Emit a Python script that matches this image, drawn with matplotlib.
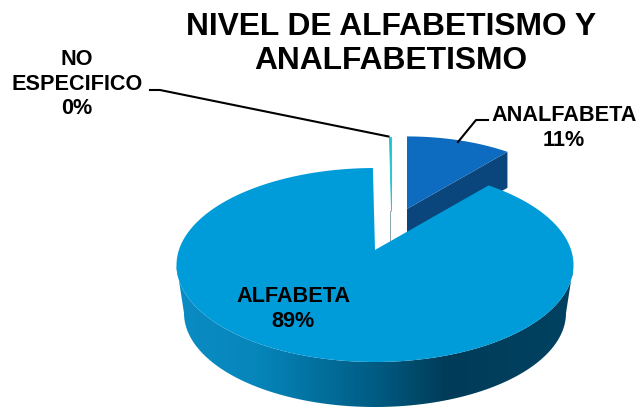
import numpy as np
import matplotlib
matplotlib.use('Agg')
import matplotlib.pyplot as plt
from matplotlib.colors import LinearSegmentedColormap
from matplotlib.patches import Polygon

plt.rcParams['font.family'] = ['Liberation Sans', 'DejaVu Sans']

categories = ['ANALFABETA', 'ALFABETA', 'NO\nESPECIFICO']
values = [11.2, 88.6, 0.2]
title = 'NIVEL DE ALFABETISMO Y\nANALFABETISMO'

# pie geometry in pixels of the reference
cx, cy, rx, ry = 375.0, 265.0, 198.5, 97.0
k = 0.155  # perspective shift of the pie centre
low_cx, low_cy, low_rx, low_ry = 375.0, 313.0, 191.0, 94.0

def project(alpha, scale=1.0, off=(0, 0)):
	# circle angle (degrees) -> pixel on the tilted disc, with perspective
	a = np.radians(alpha)
	x, y = np.cos(a), np.sin(a)
	yp = (y + k) / (1 + k * y)
	xp = x * np.sqrt(1 - k ** 2) / (1 + k * y)
	ax_x = cx + off[0] + scale * (xp * rx)
	ax_y = (cy - k * ry) + off[1] - scale * ((yp - k) * ry)
	return ax_x, ax_y

def slice_xy(a1, a2, scale=1.0, off=(0, 0)):
	t = np.linspace(a1, a2, 200)
	x, y = project(t, scale, off)
	ax0 = cx + off[0]
	ay0 = cy - k * ry + off[1]
	return np.column_stack([np.r_[ax0, x], np.r_[ay0, y]])

fig = plt.figure(figsize=(6.37, 4.07), dpi=100)
ax = fig.add_axes([0, 0, 1, 1])

sweeps = 360 * np.array(values) / sum(values)
a_blue = (90 - sweeps[0], 90)
a_main = (90 - sweeps[0] - sweeps[1], 90 - sweeps[0])
a_sliver = (90 + 0, 90 + sweeps[2])

# ANALFABETA, exploded
s_blue, off_blue = 0.885, (32, -41)
xy = slice_xy(a_blue[0], a_blue[1], s_blue, off_blue)
px, py = project(a_blue[0], s_blue, off_blue)
x0, y0 = xy[0]
ax.add_patch(Polygon([[x0, y0], [px, py], [px, py + 36], [x0, y0 + 36]], fc='#0a457c', ec='none', zorder=2))
ax.add_patch(Polygon(xy, fc='#0d6cc0', ec='none', zorder=3))

# NO ESPECIFICO, almost nothing of it
s_sl, off_sl = 0.9, (15.5, -39)
xy = slice_xy(a_sliver[0], a_sliver[1], s_sl, off_sl)
x0, y0 = xy[0]
ax.add_patch(Polygon([[x0 - 1.0, y0], [x0 + 0.6, y0], [x0 + 0.6, y0 + 30], [x0 - 1.0, y0 + 30]], fc='#8aa9ad', ec='none', zorder=2))
ax.add_patch(Polygon(xy, fc='#1cc3d0', ec='#1cc3d0', lw=0.6, zorder=3))

# side wall of ALFABETA with its gradient
t = np.radians(np.linspace(180, 360, 200))
top_arc = np.column_stack([cx + rx * np.cos(t), cy - ry * np.sin(t)])
low_arc = np.column_stack([low_cx + low_rx * np.cos(t), low_cy - low_ry * np.sin(t)])
wall = Polygon(np.vstack([top_arc, low_arc[::-1]]), transform=ax.transData, fc='none', ec='none')
ax.add_patch(wall)
cmap = LinearSegmentedColormap.from_list('wall', [
	(0.0, '#0a8cc4'), (0.2, '#0686bb'), (0.5, '#005c84'), (0.68, '#003c58'), (1.0, '#004262')])
im = ax.imshow(np.linspace(0, 1, 256).reshape(1, -1), cmap=cmap, aspect='auto',
	extent=(176, 573, 407, 260), zorder=4)
im.set_clip_path(wall)

# ALFABETA top face
ax.add_patch(Polygon(slice_xy(a_main[0], a_main[1]), fc='#009cd9', ec='none', zorder=5))

# leader lines
ax.plot([150, 160, 388.5], [90, 90, 136.5], color='black', lw=1.5, zorder=6)
ax.plot([488, 476, 458], [120, 120, 142], color='black', lw=1.5, zorder=6)

labels = [f'{c}\n{round(v)}%' for c, v in zip(categories, values)]
ax.text(564, 128, labels[0], ha='center', va='center', fontsize=15.6, fontweight='bold', linespacing=1.24, zorder=7)
ax.text(293, 309, labels[1], ha='center', va='center', fontsize=15.6, fontweight='bold', linespacing=1.24, zorder=7)
ax.text(77, 84, labels[2], ha='center', va='center', fontsize=15.6, fontweight='bold', linespacing=1.24, zorder=7)
ax.text(391, 44, title, ha='center', va='center', fontsize=22.9, fontweight='bold', linespacing=1.15, zorder=7)

ax.set_xlim(0, 637)
ax.set_ylim(407, 0)
ax.axis('off')
fig.savefig('out.png', dpi=100)
